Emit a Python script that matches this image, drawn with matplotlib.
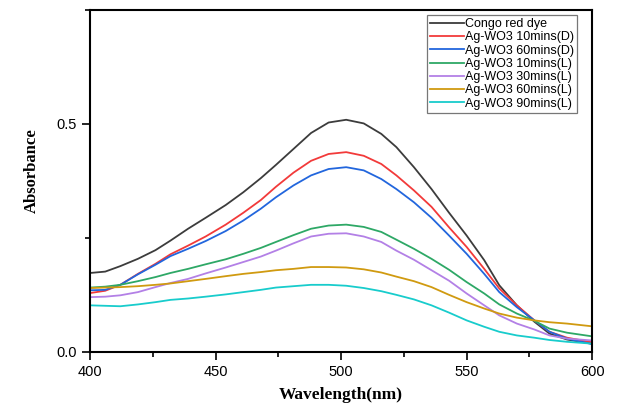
import matplotlib.pyplot as plt
from matplotlib.ticker import MultipleLocator

wavelength = [400, 406, 412, 419, 426, 432, 439, 446, 454, 461, 468, 474, 481, 488, 495,
              502, 509, 516, 522, 529, 536, 543, 550, 557, 563, 570, 577, 583, 590, 600]

congo_red = [0.173, 0.176, 0.188, 0.204, 0.223, 0.244, 0.270, 0.294, 0.322, 0.350, 0.381, 0.410, 0.445, 0.480, 0.503,
             0.509, 0.501, 0.478, 0.449, 0.405, 0.357, 0.305, 0.255, 0.201, 0.146, 0.102, 0.066, 0.040, 0.027, 0.018]
d_10min = [0.129, 0.134, 0.147, 0.171, 0.193, 0.214, 0.233, 0.253, 0.279, 0.305, 0.333, 0.362, 0.393, 0.419, 0.434,
           0.438, 0.430, 0.412, 0.387, 0.354, 0.318, 0.273, 0.230, 0.182, 0.139, 0.102, 0.069, 0.044, 0.031, 0.021]
d_60min = [0.135, 0.136, 0.147, 0.170, 0.191, 0.210, 0.226, 0.243, 0.265, 0.288, 0.314, 0.339, 0.365, 0.387, 0.401,
           0.405, 0.398, 0.379, 0.357, 0.328, 0.294, 0.255, 0.215, 0.171, 0.131, 0.098, 0.069, 0.044, 0.029, 0.017]
l_10min = [0.141, 0.143, 0.147, 0.155, 0.164, 0.173, 0.182, 0.192, 0.203, 0.215, 0.228, 0.241, 0.256, 0.270, 0.277,
           0.279, 0.274, 0.263, 0.246, 0.226, 0.204, 0.180, 0.153, 0.128, 0.104, 0.084, 0.068, 0.051, 0.042, 0.034]
l_30min = [0.120, 0.121, 0.124, 0.131, 0.142, 0.151, 0.160, 0.172, 0.185, 0.197, 0.209, 0.222, 0.238, 0.253, 0.259,
           0.260, 0.253, 0.241, 0.222, 0.202, 0.179, 0.156, 0.128, 0.102, 0.080, 0.062, 0.049, 0.036, 0.029, 0.025]
l_60min = [0.140, 0.141, 0.142, 0.144, 0.147, 0.150, 0.155, 0.160, 0.166, 0.171, 0.175, 0.179, 0.182, 0.186, 0.186,
           0.185, 0.181, 0.174, 0.165, 0.155, 0.142, 0.125, 0.109, 0.095, 0.084, 0.075, 0.069, 0.065, 0.062, 0.056]
l_90min = [0.102, 0.101, 0.100, 0.104, 0.109, 0.114, 0.117, 0.121, 0.126, 0.131, 0.136, 0.141, 0.144, 0.147, 0.147,
           0.145, 0.140, 0.133, 0.125, 0.115, 0.102, 0.086, 0.069, 0.055, 0.044, 0.036, 0.031, 0.026, 0.022, 0.018]

labels = ["Congo red dye", "Ag-WO3 10mins(D)", "Ag-WO3 60mins(D)", "Ag-WO3 10mins(L)",
          "Ag-WO3 30mins(L)", "Ag-WO3 60mins(L)", "Ag-WO3 90mins(L)"]
series = [congo_red, d_10min, d_60min, l_10min, l_30min, l_60min, l_90min]
colors = ["#3c3c3c", "#f23a3a", "#2266dd", "#2ea866", "#b380e6", "#d09a10", "#18cccc"]

fig = plt.figure(figsize=(6.22, 4.12), dpi=100)
ax = fig.add_axes([0.145, 0.146, 0.807, 0.83])

for y, lab, c in zip(series, labels, colors):
    ax.plot(wavelength, y, color=c, linewidth=1.3, label=lab)

ax.set_xlim(400, 600)
ax.set_ylim(0, 0.75)
ax.xaxis.set_major_locator(MultipleLocator(50))
ax.xaxis.set_minor_locator(MultipleLocator(25))
ax.yaxis.set_major_locator(MultipleLocator(0.5))
ax.yaxis.set_minor_locator(MultipleLocator(0.25))
ax.yaxis.set_major_formatter(lambda v, p: f"{v:.1f}")

for s in ax.spines.values():
    s.set_linewidth(1.5)
ax.tick_params(which="both", direction="out", width=1.2, labelsize=10.5)
ax.tick_params(which="major", length=6)
ax.tick_params(which="minor", length=3.5)
for t in ax.get_xticklabels() + ax.get_yticklabels():
    t.set_family("Liberation Sans")

ax.set_xlabel("Wavelength(nm)", family="Liberation Serif", fontweight="bold", fontsize=12.5, labelpad=6)
ax.set_ylabel("Absorbance", family="Liberation Serif", fontweight="bold", fontsize=12)
ax.yaxis.set_label_coords(-0.1, 0.53)

leg = ax.legend(loc="upper right", bbox_to_anchor=(0.97, 0.985), prop={"family": "Liberation Sans", "size": 9},
                frameon=True, fancybox=False, handlelength=2.7, handletextpad=0.1, labelspacing=0.1,
                borderpad=0.25, borderaxespad=0)
leg.get_frame().set_edgecolor("#555555")
leg.get_frame().set_linewidth(0.9)

fig.savefig("out.png", dpi=100)
